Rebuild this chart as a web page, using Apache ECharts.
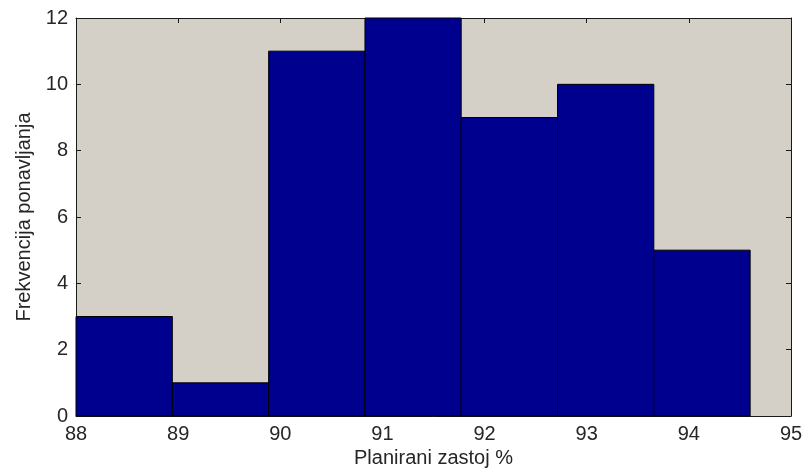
<!DOCTYPE html>
<html>
<head>
<meta charset="utf-8">
<script src="https://cdn.jsdelivr.net/npm/echarts@6/dist/echarts.min.js"></script>
<style>
  html, body { margin: 0; padding: 0; background: #ffffff; }
  #chart { width: 803px; height: 472px; }
</style>
</head>
<body>
<div id="chart"></div>
<script>
// Histogram bins: lower/upper edges and counts
const binLower = [88.0, 88.943, 89.886, 90.829, 91.771, 92.714, 93.657];
const binUpper = [88.943, 89.886, 90.829, 91.771, 92.714, 93.657, 94.6];
const counts = [3, 1, 11, 12, 9, 10, 5];

const xTicks = [88, 89, 90, 91, 92, 93, 94, 95];
const yTicks = [0, 2, 4, 6, 8, 10, 12];

const xTitle = 'Planirani zastoj %';
const yTitle = 'Frekvencija ponavljanja';

const bins = counts.map((c, i) => [binLower[i], binUpper[i], c]);

const font = '"Liberation Sans", Arial, sans-serif';
const axisColor = '#1a1a1a';
const textColor = '#262626';
const fontSize = 20;

const chart = echarts.init(document.getElementById('chart'));

const baseTick = { show: true, inside: true, length: 5, lineStyle: { color: axisColor, width: 1 } };

chart.setOption({
  animation: false,
  backgroundColor: '#ffffff',
  grid: {
    left: 76, right: 12, top: 18, bottom: 56,
    outerBoundsMode: 'none',
    containLabel: false,
    show: true, backgroundColor: '#d4d0c8', borderWidth: 0
  },
  xAxis: [
    {
      type: 'value', position: 'bottom',
      min: xTicks[0], max: xTicks[xTicks.length - 1], interval: 1,
      name: xTitle, nameLocation: 'middle', nameGap: 32,
      nameTextStyle: { fontFamily: font, fontSize: fontSize, color: textColor },
      axisLine: { show: true, onZero: false, lineStyle: { color: axisColor, width: 1 } },
      axisTick: baseTick,
      splitLine: { show: false },
      axisLabel: { fontFamily: font, fontSize: fontSize, color: textColor, margin: 8 }
    },
    {
      type: 'value', position: 'top',
      min: xTicks[0], max: xTicks[xTicks.length - 1], interval: 1,
      axisLine: { show: true, onZero: false, lineStyle: { color: axisColor, width: 1 } },
      axisTick: baseTick,
      splitLine: { show: false },
      axisLabel: { show: false }
    }
  ],
  yAxis: [
    {
      type: 'value', position: 'left',
      min: yTicks[0], max: yTicks[yTicks.length - 1], interval: 2,
      name: yTitle, nameLocation: 'middle', nameGap: 41,
      nameTextStyle: { fontFamily: font, fontSize: fontSize, color: textColor },
      axisLine: { show: true, onZero: false, lineStyle: { color: axisColor, width: 1 } },
      axisTick: baseTick,
      splitLine: { show: false },
      axisLabel: { fontFamily: font, fontSize: fontSize, color: textColor, margin: 8 }
    },
    {
      type: 'value', position: 'right',
      min: yTicks[0], max: yTicks[yTicks.length - 1], interval: 2,
      axisLine: { show: true, onZero: false, lineStyle: { color: axisColor, width: 1 } },
      axisTick: baseTick,
      splitLine: { show: false },
      axisLabel: { show: false }
    }
  ],
  series: [{
    type: 'custom',
    xAxisIndex: 0,
    yAxisIndex: 0,
    data: bins,
    encode: { x: [0, 1], y: 2 },
    z: 1,
    renderItem: function (params, api) {
      const p0 = api.coord([api.value(0), 0]);
      const p1 = api.coord([api.value(1), api.value(2)]);
      return {
        type: 'rect',
        shape: { x: p0[0], y: p1[1], width: p1[0] - p0[0], height: p0[1] - p1[1] },
        style: { fill: '#00008f', stroke: '#000000', lineWidth: 1 }
      };
    }
  }]
});
</script>
</body>
</html>
